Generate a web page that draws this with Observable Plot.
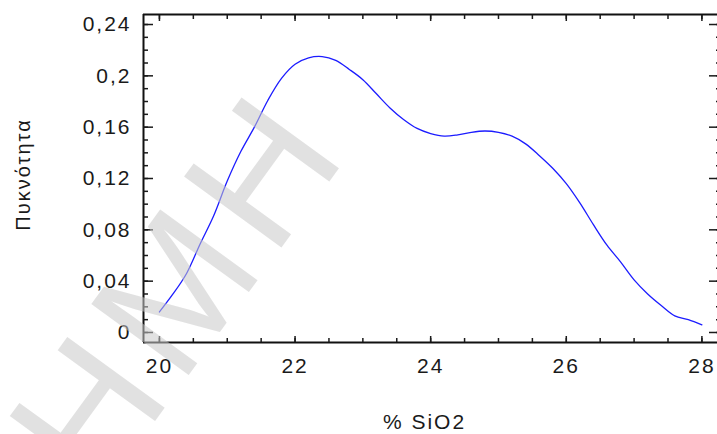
<!DOCTYPE html>
<html>
<head>
<meta charset="utf-8">
<script src="https://cdn.jsdelivr.net/npm/d3@7"></script>
<script src="https://cdn.jsdelivr.net/npm/@observablehq/plot@0.6"></script>
<style>
  html, body { margin: 0; padding: 0; background: #fff; }
  #chart { width: 717px; height: 434px; overflow: hidden; }
  #chart svg text { letter-spacing: 2px; }
  #chart svg text.wm { letter-spacing: 12px; }
</style>
</head>
<body>
<div id="chart"></div>
<script>
// ---- data ----
const silicaPercent = [20.0, 20.2, 20.4, 20.6, 20.8, 21.0, 21.2, 21.4, 21.6, 21.8,
  22.0, 22.2, 22.4, 22.6, 22.8, 23.0, 23.2, 23.4, 23.6, 23.8,
  24.0, 24.2, 24.4, 24.6, 24.8, 25.0, 25.2, 25.4, 25.6, 25.8,
  26.0, 26.2, 26.4, 26.6, 26.8, 27.0, 27.2, 27.4, 27.6, 27.8, 28.0];
const densityValues = [0.016, 0.030, 0.046, 0.069, 0.091, 0.118, 0.141, 0.160, 0.181, 0.198,
  0.209, 0.214, 0.215, 0.212, 0.205, 0.197, 0.186, 0.175, 0.166, 0.159,
  0.155, 0.153, 0.154, 0.156, 0.157, 0.156, 0.153, 0.147, 0.138, 0.128,
  0.116, 0.101, 0.084, 0.068, 0.055, 0.041, 0.030, 0.021, 0.013, 0.010, 0.006];
const xMajorTicks = [20, 22, 24, 26, 28];
const xMinorTicks = [20, 20.5, 21, 21.5, 22, 22.5, 23, 23.5, 24, 24.5, 25, 25.5, 26, 26.5, 27, 27.5, 28];
const yMajorTicks = [0, 0.04, 0.08, 0.12, 0.16, 0.2, 0.24];
const yMinorTicks = [0, 0.01, 0.02, 0.03, 0.04, 0.05, 0.06, 0.07, 0.08, 0.09, 0.1, 0.11, 0.12,
  0.13, 0.14, 0.15, 0.16, 0.17, 0.18, 0.19, 0.2, 0.21, 0.22, 0.23, 0.24];
const xDomain = [19.765, 28.23];
const yDomain = [-0.0078, 0.2478];
const xLabel = "% SiO2";
const yLabel = "Πυκνότητα";
const watermark = "ΕΠΙΣΤΗΜΗ";

const data = silicaPercent.map((x, i) => ({x, y: densityValues[i]}));
const fmt = d => String(d).replace(".", ",");
const blank = () => "";

const chart = Plot.plot({
  width: 717,
  height: 434,
  marginLeft: 143,
  marginRight: 0,
  marginTop: 14,
  marginBottom: 92,
  style: {fontFamily: "Liberation Sans, Arial, sans-serif", fontSize: "21px", color: "#1a1a1a", background: "#fff"},
  x: {domain: xDomain},
  y: {domain: yDomain},
  marks: [
    // frame (left, top, bottom)
    Plot.ruleX([xDomain[0]], {stroke: "#111", strokeWidth: 2}),
    Plot.ruleY([yDomain[0], yDomain[1]], {stroke: "#111", strokeWidth: 2}),
    // bottom ticks (inward)
    Plot.axisX({anchor: "bottom", ticks: xMinorTicks, tickSize: -4, tickFormat: blank, label: null, strokeWidth: 1.5}),
    Plot.axisX({anchor: "bottom", ticks: xMajorTicks, tickSize: -6, tickFormat: blank, label: null, strokeWidth: 1.5}),
    Plot.axisX({anchor: "bottom", ticks: xMajorTicks, tickSize: 0, tickPadding: 16, tickFormat: fmt, label: null, fontSize: 21}),
    // top ticks
    Plot.axisX({anchor: "top", ticks: xMinorTicks, tickSize: -4, tickFormat: blank, label: null, strokeWidth: 1.5}),
    Plot.axisX({anchor: "top", ticks: xMajorTicks, tickSize: -6, tickFormat: blank, label: null, strokeWidth: 1.5}),
    // left ticks
    Plot.axisY({anchor: "left", ticks: yMinorTicks, tickSize: -5, tickFormat: blank, label: null, strokeWidth: 1.5}),
    Plot.axisY({anchor: "left", ticks: yMajorTicks, tickSize: -10, tickFormat: blank, label: null, strokeWidth: 1.5}),
    Plot.axisY({anchor: "left", ticks: yMajorTicks, tickSize: 0, tickPadding: 12, tickFormat: fmt, label: null, fontSize: 21}),
    // right ticks
    Plot.axisY({anchor: "right", ticks: yMinorTicks, tickSize: -2, tickFormat: blank, label: null, strokeWidth: 1.5}),
    Plot.axisY({anchor: "right", ticks: yMajorTicks, tickSize: -9, tickFormat: blank, label: null, strokeWidth: 1.5}),
    // density curve
    Plot.line(data, {x: "x", y: "y", stroke: "#1c1cff", strokeWidth: 1.3, curve: "catmull-rom"}),
    // axis titles
    Plot.text([yLabel], {frameAnchor: "left", textAnchor: "middle", lineAnchor: "middle", dx: -120, dy: -4, rotate: -90, fontSize: 20, fill: "#1a1a1a"}),
    Plot.text([xLabel], {frameAnchor: "bottom", textAnchor: "middle", lineAnchor: "middle", dx: -6, dy: 80, fontSize: 21, fill: "#1a1a1a"})
  ]
});

// watermark overlay (decorative)
d3.select(chart).append("text")
  .attr("class", "wm")
  .attr("transform", "translate(60,552) rotate(-54)")
  .attr("font-family", "Liberation Sans, Arial, sans-serif")
  .attr("font-size", 175)
  .attr("fill", "#c8c8c8")
  .attr("fill-opacity", 0.55)
  .text(watermark);

document.getElementById("chart").appendChild(chart);
</script>
</body>
</html>
